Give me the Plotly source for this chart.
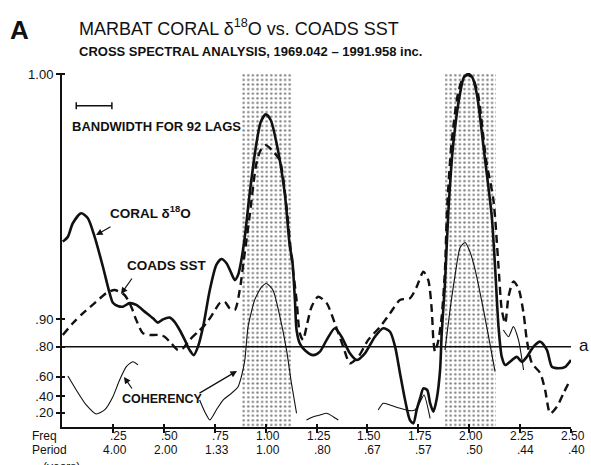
import numpy as np
import plotly.graph_objects as go

# ---------------- data ----------------
# Normalised spectral level (1.00 = maximum) vs frequency (cycles / year)
CORAL_FREQ = [0.004, 0.029, 0.053, 0.094, 0.127, 0.160, 0.201, 0.234, 0.250, 0.274,
              0.299, 0.332, 0.365, 0.406, 0.447, 0.471, 0.496, 0.529, 0.553, 0.578,
              0.603, 0.627, 0.647, 0.668, 0.693, 0.726, 0.758, 0.783, 0.808, 0.832,
              0.849, 0.865, 0.881, 0.898, 0.922, 0.955, 0.976, 1.001, 1.025, 1.054,
              1.094, 1.119, 1.131, 1.144, 1.152, 1.168, 1.193, 1.234, 1.267, 1.300,
              1.340, 1.373, 1.414, 1.447, 1.488, 1.537, 1.578, 1.611, 1.636, 1.660,
              1.685, 1.709, 1.726, 1.742, 1.759, 1.775, 1.794, 1.808, 1.824, 1.841,
              1.857, 1.865, 1.881, 1.898, 1.922, 1.955, 1.975, 1.996, 2.014, 2.037,
              2.078, 2.111, 2.127, 2.144, 2.160, 2.177, 2.210, 2.234, 2.259, 2.283,
              2.316, 2.349, 2.382, 2.406, 2.439, 2.472, 2.500]
CORAL_LEVEL = [0.526, 0.540, 0.578, 0.606, 0.592, 0.540, 0.455, 0.380, 0.353, 0.344,
               0.342, 0.352, 0.347, 0.328, 0.309, 0.297, 0.306, 0.311, 0.299, 0.276,
               0.248, 0.219, 0.205, 0.229, 0.285, 0.389, 0.460, 0.477, 0.465, 0.436,
               0.417, 0.432, 0.474, 0.540, 0.663, 0.804, 0.864, 0.886, 0.870, 0.804,
               0.663, 0.512, 0.474, 0.361, 0.276, 0.238, 0.219, 0.205, 0.215, 0.248,
               0.281, 0.257, 0.210, 0.191, 0.210, 0.257, 0.281, 0.271, 0.229, 0.154,
               0.078, 0.021, 0.012, 0.050, 0.083, 0.111, 0.106, 0.069, 0.045, 0.083,
               0.163, 0.267, 0.408, 0.615, 0.804, 0.945, 0.992, 1.000, 0.992, 0.945,
               0.757, 0.596, 0.455, 0.285, 0.200, 0.177, 0.191, 0.200, 0.186, 0.200,
               0.229, 0.243, 0.219, 0.172, 0.168, 0.172, 0.191]

SST_FREQ = [0.004, 0.053, 0.102, 0.160, 0.217, 0.258, 0.307, 0.340, 0.365, 0.397,
            0.430, 0.471, 0.504, 0.537, 0.570, 0.594, 0.627, 0.668, 0.709, 0.742,
            0.775, 0.799, 0.824, 0.849, 0.873, 0.893, 0.922, 0.955, 0.976, 1.001,
            1.030, 1.069, 1.099, 1.127, 1.152, 1.168, 1.184, 1.201, 1.226, 1.258,
            1.300, 1.340, 1.381, 1.414, 1.455, 1.504, 1.562, 1.611, 1.660, 1.709,
            1.742, 1.775, 1.799, 1.816, 1.824, 1.832, 1.849, 1.865, 1.881, 1.891,
            1.913, 1.945, 1.970, 1.995, 2.019, 2.044, 2.083, 2.119, 2.144, 2.160,
            2.177, 2.193, 2.217, 2.242, 2.267, 2.283, 2.308, 2.349, 2.373, 2.398,
            2.431, 2.463, 2.496]
SST_LEVEL = [0.262, 0.295, 0.323, 0.352, 0.380, 0.389, 0.375, 0.342, 0.304, 0.267,
             0.262, 0.262, 0.257, 0.238, 0.219, 0.224, 0.248, 0.271, 0.295, 0.323,
             0.352, 0.356, 0.337, 0.333, 0.389, 0.474, 0.601, 0.748, 0.785, 0.799,
             0.785, 0.757, 0.644, 0.483, 0.361, 0.267, 0.248, 0.285, 0.342, 0.370,
             0.352, 0.295, 0.229, 0.182, 0.200, 0.248, 0.285, 0.323, 0.361, 0.366,
             0.398, 0.441, 0.417, 0.333, 0.248, 0.215, 0.248, 0.314, 0.446, 0.615,
             0.804, 0.945, 0.989, 0.997, 0.986, 0.941, 0.757, 0.644, 0.455, 0.333,
             0.295, 0.370, 0.413, 0.394, 0.323, 0.248, 0.182, 0.154, 0.106, 0.040,
             0.059, 0.097, 0.135]

# Coherency (only the plotted pieces; None separates the pieces)
COH_FREQ = [0.029, 0.070, 0.119, 0.168, 0.209, 0.250, 0.283, 0.316, 0.348, 0.373, None,
            0.676, 0.701, 0.726, 0.758, 0.791, 0.832, 0.865, 0.881, 0.898, 0.914,
            0.947, 0.980, 1.004, 1.037, 1.070, 1.103, 1.127, 1.152, None,
            1.201, 1.234, 1.267, 1.300, 1.332, 1.357, None,
            1.553, 1.578, 1.611, 1.660, 1.709, 1.734, 1.759, 1.778, 1.808, None,
            1.881, 1.906, 1.931, 1.955, 1.980, 2.005, 2.029, 2.070, 2.103, 2.127, None,
            2.168, 2.193, 2.217, 2.242, 2.267]
COH_VALUE = [0.605, 0.471, 0.298, 0.183, 0.235, 0.397, 0.569, 0.679, 0.714, 0.692, None,
             0.358, 0.213, 0.103, 0.235, 0.358, 0.435, 0.505, 0.599, 0.725, 0.879,
             0.940, 0.957, 0.961, 0.953, 0.907, 0.783, 0.538, 0.192, None,
             0.103, 0.147, 0.169, 0.192, 0.147, 0.103, None,
             0.235, 0.319, 0.298, 0.256, 0.226, 0.235, 0.338, 0.416, 0.125, None,
             0.783, 0.922, 0.969, 0.985, 0.987, 0.983, 0.973, 0.922, 0.808, 0.641, None,
             0.868, 0.844, 0.879, 0.831, 0.654]

SIGNIF_LEVEL = 0.80            # level "a"
BAND_CENTERS = [1.005, 2.005]  # shaded bands (freq)
BAND_WIDTH = 0.252
BANDWIDTH_92_LAGS = 0.175      # freq units
BANDWIDTH_START = 0.070

FREQ_TICKS = [0.25, 0.50, 0.75, 1.00, 1.25, 1.50, 1.75, 2.00, 2.25, 2.50]
FREQ_LABELS = [".25", ".50", ".75", "1.00", "1.25", "1.50", "1.75", "2.00", "2.25", "2.50"]
PERIOD_LABELS = ["4.00", "2.00", "1.33", "1.00", ".80", ".67", ".57", ".50", ".44", ".40"]
COH_TICKS = [0.20, 0.40, 0.60, 0.80, 0.90]
COH_LABELS = [".20", ".40", ".60", ".80", ".90"]

# ---------------- scales ----------------
# vertical axis is in arctanh(coherency) units; spectra normalised so 1.00 sits at Z_ONE
Z_ONE = 4.804
Y_RANGE = [0.008, 4.818]
X_RANGE = [0.0, 2.5]

def coh_to_axis(vals):
    return [None if v is None else float(np.arctanh(v)) for v in vals]

def level_to_axis(vals):
    return [v * Z_ONE for v in vals]

W, H = 591, 465
ML, MR, MT, MB = 62, 20, 73, 38

def px(xp, yp):
    return (xp - ML) / (W - ML - MR), (H - MB - yp) / (H - MT - MB)

FONT = "Liberation Sans, Arial, Helvetica, sans-serif"
INK = "#111111"

fig = go.Figure()

# shaded (stippled) bands
fig.add_trace(go.Bar(
    x=BAND_CENTERS, y=[Y_RANGE[1]] * len(BAND_CENTERS), base=0, width=BAND_WIDTH,
    marker=dict(color="white", line=dict(width=0),
                pattern=dict(shape=".", fgcolor="#000000", bgcolor="white",
                             size=4.6, solidity=0.22)),
    showlegend=False, hoverinfo="skip"))

# significance line "a"
fig.add_trace(go.Scatter(
    x=X_RANGE, y=coh_to_axis([SIGNIF_LEVEL, SIGNIF_LEVEL]), mode="lines",
    line=dict(color=INK, width=1.3), showlegend=False, cliponaxis=False))

# coherency (thin)
fig.add_trace(go.Scatter(
    x=COH_FREQ, y=coh_to_axis(COH_VALUE), mode="lines", connectgaps=False,
    line=dict(color=INK, width=1.1, shape="spline", smoothing=0.6), showlegend=False))

# COADS SST (dashed)
fig.add_trace(go.Scatter(
    x=SST_FREQ, y=level_to_axis(SST_LEVEL), mode="lines",
    line=dict(color=INK, width=2.4, dash="8px,5px", shape="spline", smoothing=0.7),
    showlegend=False))

# Coral d18O (solid)
fig.add_trace(go.Scatter(
    x=CORAL_FREQ, y=level_to_axis(CORAL_LEVEL), mode="lines",
    line=dict(color=INK, width=2.6, shape="spline", smoothing=0.7), showlegend=False))

# bandwidth bar
bw_y = 0.91 * Z_ONE
fig.add_trace(go.Scatter(
    x=[BANDWIDTH_START, BANDWIDTH_START + BANDWIDTH_92_LAGS], y=[bw_y, bw_y],
    mode="lines+markers", line=dict(color=INK, width=1.5),
    marker=dict(symbol="line-ns-open", size=5, line=dict(color=INK, width=1.5)),
    showlegend=False))

# invisible trace on the overlay axes (to draw crossing ticks)
fig.add_trace(go.Scatter(x=[None], y=[None], xaxis="x2", yaxis="y2", showlegend=False))

y_tickvals = coh_to_axis(COH_TICKS) + [Z_ONE]
y_ticktext = COH_LABELS + ["1.00"]

fig.update_layout(
    width=W, height=H, margin=dict(l=ML, r=MR, t=MT, b=MB),
    paper_bgcolor="white", plot_bgcolor="white",
    font=dict(family=FONT, color=INK),
    barmode="overlay", bargap=0,
    xaxis=dict(range=X_RANGE, showgrid=False, zeroline=False, showline=True,
               linecolor=INK, linewidth=2, tickvals=FREQ_TICKS, ticks="outside",
               ticklen=4, tickwidth=1.5, tickcolor=INK, showticklabels=False),
    xaxis2=dict(range=X_RANGE, overlaying="x", anchor="y", side="bottom",
                showgrid=False, zeroline=False, showline=False, tickvals=FREQ_TICKS,
                ticks="inside", ticklen=3, tickwidth=1.5, tickcolor=INK,
                showticklabels=False),
    yaxis=dict(range=Y_RANGE, showgrid=False, zeroline=False, showline=True,
               linecolor=INK, linewidth=2, tickvals=y_tickvals, ticktext=y_ticktext,
               ticks="outside", ticklen=4, tickwidth=1.5, tickcolor=INK,
               tickfont=dict(size=13, family=FONT, color=INK)),
    yaxis2=dict(range=Y_RANGE, overlaying="y", anchor="x", side="left",
                showgrid=False, zeroline=False, showline=False, tickvals=y_tickvals,
                ticks="inside", ticklen=3, tickwidth=1.5, tickcolor=INK,
                showticklabels=False),
)

ann = []

def text(xp, yp, s, size=12, xanchor="left", yanchor="middle", bold=False, **kw):
    x, y = px(xp, yp)
    if bold:
        s = "<b>" + s + "</b>"
    ann.append(dict(x=x, y=y, xref="paper", yref="paper", text=s, showarrow=False,
                    xanchor=xanchor, yanchor=yanchor,
                    font=dict(size=size, family=FONT, color=INK), **kw))

text(8, 30, "A", size=26, bold=True)
text(77, 28, "MARBAT CORAL δ<sup>18</sup>O vs. COADS SST", size=18)
text(77, 52, "CROSS SPECTRAL ANALYSIS, 1969.042 – 1991.958 inc.", size=13, bold=True)
text(70, 126, "BANDWIDTH FOR 92 LAGS", size=13, bold=True)
text(108, 212, "CORAL δ<sup>18</sup>O", size=13.5, bold=True)
text(125, 265, "COADS SST", size=13.5, bold=True)
text(120, 399, "COHERENCY", size=12.5, bold=True)
text(577, 345, "a", size=17)

# x tick labels (frequency over period), right-aligned just right of each tick
LAB_Y1, LAB_Y2 = 436, 450
for fv, fl, pl in zip(FREQ_TICKS, FREQ_LABELS, PERIOD_LABELS):
    for lab, yp in ((fl, LAB_Y1), (pl, LAB_Y2)):
        ann.append(dict(x=fv, y=px(0, yp)[1], xref="x", yref="paper",
                        text=lab, showarrow=False, xanchor="right",
                        yanchor="middle", xshift=16,
                        font=dict(size=12, family=FONT, color=INK)))
text(30, LAB_Y1, "Freq", size=12)
text(30, LAB_Y2, "Period", size=12)
text(41, 458, "(years)", size=12, yanchor="top")

# arrows
def arrow(hx, hy, tx, ty):
    x, y = px(hx, hy)
    ann.append(dict(x=x, y=y, xref="paper", yref="paper", ax=tx - hx, ay=ty - hy,
                    axref="pixel", ayref="pixel", text="", showarrow=True,
                    arrowhead=2, arrowsize=1.1, arrowwidth=1.2, arrowcolor=INK))

arrow(96, 235, 112, 226)
arrow(121, 294, 133, 277)
arrow(124, 377, 133, 390)
arrow(237, 371, 198, 394)

fig.update_layout(annotations=ann)

fig.write_html("out.html")
